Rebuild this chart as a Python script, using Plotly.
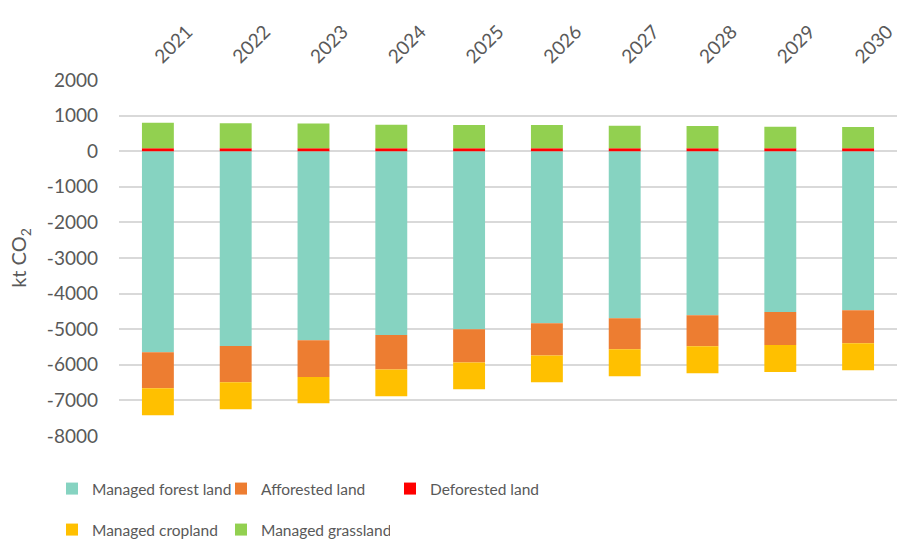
import plotly.graph_objects as go

# -------------------------------
# data (kt CO2 per year)
# -------------------------------
years = ["2021", "2022", "2023", "2024", "2025", "2026", "2027", "2028", "2029", "2030"]
managed_forest = [-5650, -5470, -5310, -5160, -5000, -4830, -4690, -4610, -4520, -4470]
afforested = [-1010, -1020, -1030, -970, -935, -910, -870, -870, -925, -925]
deforested = [80, 80, 80, 80, 80, 80, 80, 80, 80, 80]
managed_cropland = [-760, -760, -740, -750, -750, -750, -760, -760, -760, -760]
managed_grassland = [720, 705, 695, 665, 655, 655, 635, 625, 610, 600]

# y tick labels use a plain hyphen, like the original
y_ticks = [2000, 1000, 0, -1000, -2000, -3000, -4000, -5000, -6000, -7000, -8000]
y_tick_text = ["2000", "1000", "0", "-1000", "-2000", "-3000", "-4000", "-5000", "-6000", "-7000", "-8000"]

# name, values, colour, legend row
series = [
    ("Managed forest land", managed_forest, "#86D3C1", "legend"),
    ("Afforested land", afforested, "#ED7D31", "legend"),
    ("Deforested land", deforested, "#FF0000", "legend"),
    ("Managed cropland", managed_cropland, "#FFC000", "legend2"),
    ("Managed grassland", managed_grassland, "#92D050", "legend2"),
]

FONT = "Lato, Open Sans, sans-serif"
GREY = "#595959"
W, H = 899, 544

fig = go.Figure()
for name, vals, color, leg in series:
    fig.add_trace(go.Bar(
        x=years, y=vals, name=name, legend=leg,
        marker=dict(color=color, line=dict(width=0)),
    ))

legend_style = dict(
    orientation="h",
    xref="container", yref="container",
    x=52 / W,
    xanchor="left", yanchor="middle",
    entrywidth=124,
    font=dict(size=15.5, color=GREY),
    bgcolor="rgba(0,0,0,0)",
)

fig.update_layout(
    barmode="relative",
    bargap=0.59,
    width=W, height=H,
    margin=dict(l=119, r=2, t=80, b=108),
    paper_bgcolor="white",
    plot_bgcolor="white",
    font=dict(family=FONT, color=GREY, size=18),
    legend=dict(legend_style, y=1 - 489 / H),
    legend2=dict(legend_style, y=1 - 530 / H),
    showlegend=True,
)
fig.update_xaxes(
    side="top",
    tickangle=-45,
    showgrid=False,
    showline=False,
    ticks="",
    automargin=False,
    ticklabelstandoff=8,
    ticklabelshift=-2,
    tickfont=dict(size=19, color=GREY),
)
fig.update_yaxes(
    range=[-8000, 2000],
    tickmode="array",
    tickvals=y_ticks,
    ticktext=y_tick_text,
    showgrid=True,
    gridcolor="#D9D9D9",
    gridwidth=1.5,
    zeroline=True,
    zerolinecolor="#D9D9D9",
    zerolinewidth=1.5,
    showline=False,
    ticks="",
    automargin=False,
    ticklabelstandoff=20,
    tickfont=dict(size=19, color=GREY),
    title=dict(text="kt CO<sub>2</sub>", font=dict(size=20, color=GREY), standoff=14),
)

# drop the browser's default 8px body margin so the chart sits at the page corner
fig.write_html(
    "out.html",
    config={"displayModeBar": False},
    post_script="document.body.style.margin='0';",
)
